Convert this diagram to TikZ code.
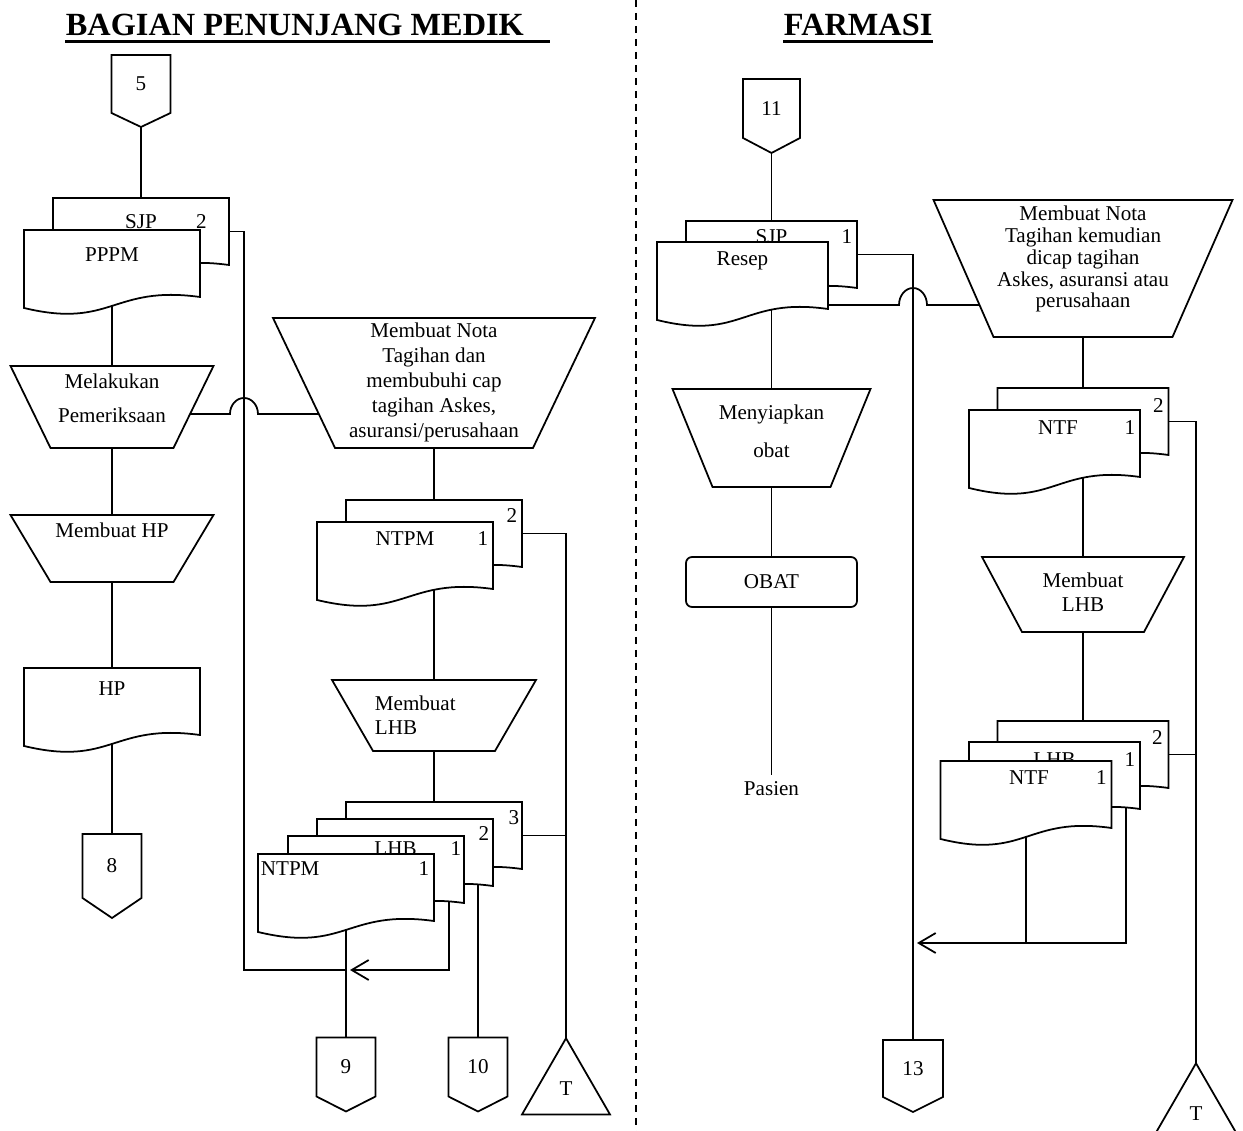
\documentclass[tikz,border=0pt]{standalone}
\usepackage{fontspec}
\setmainfont{Liberation Serif}
\usetikzlibrary{calc,shapes.geometric,arrows.meta,backgrounds}

\makeatletter
\newdimen\shpxa \newdimen\shpya \newdimen\shpxb \newdimen\shpyb
\newdimen\shpw \newdimen\shph \newdimen\shpc \newdimen\shpd \newdimen\shpe
\pgfkeys{/pgf/manual inset/.initial=0.8cm, /pgf/offpage tip/.initial=0.3cm}

% document sheet: flat top, wavy bottom
\pgfdeclareshape{document}{
  \inheritsavedanchors[from=rectangle]
  \inheritanchorborder[from=rectangle]
  \inheritanchor[from=rectangle]{center}
  \inheritanchor[from=rectangle]{north}
  \inheritanchor[from=rectangle]{south}
  \inheritanchor[from=rectangle]{east}
  \inheritanchor[from=rectangle]{west}
  \inheritanchor[from=rectangle]{north east}
  \inheritanchor[from=rectangle]{north west}
  \inheritanchor[from=rectangle]{south east}
  \inheritanchor[from=rectangle]{south west}
  \backgroundpath{
    \southwest \shpxa=\pgf@x \shpya=\pgf@y
    \northeast \shpxb=\pgf@x \shpyb=\pgf@y
    \shpw=\shpxb \advance\shpw by-\shpxa
    \shph=\shpyb \advance\shph by-\shpya
    \shpc=0.5\shpw \advance\shpc by\shpxa
    \shpd=0.18\shph \advance\shpd by\shpya
    \shpe=-0.48\shph \advance\shpe by\shpya
    \shph=-0.164\shph \advance\shph by\shpya
    \pgfpathmoveto{\pgfqpoint{\shpxa}{\shpyb}}
    \pgfpathlineto{\pgfqpoint{\shpxb}{\shpyb}}
    \pgfpathlineto{\pgfqpoint{\shpxb}{\shpya}}
    \pgfpathcurveto{\pgfqpoint{\shpc}{\shpd}}{\pgfqpoint{\shpc}{\shpe}}{\pgfqpoint{\shpxa}{\shph}}
    \pgfpathclose
  }
}

% manual operation: wide top, narrow bottom
\pgfdeclareshape{manualop}{
  \inheritsavedanchors[from=rectangle]
  \inheritanchorborder[from=rectangle]
  \inheritanchor[from=rectangle]{center}
  \inheritanchor[from=rectangle]{north}
  \inheritanchor[from=rectangle]{south}
  \inheritanchor[from=rectangle]{north east}
  \inheritanchor[from=rectangle]{north west}
  \saveddimen{\minset}{\pgfmathsetlength\pgf@x{\pgfkeysvalueof{/pgf/manual inset}}}
  \anchor{bottom east}{\southwest \shpya=\pgf@y \northeast \advance\pgf@x by-\minset \pgf@y=\shpya}
  \anchor{bottom west}{\southwest \advance\pgf@x by\minset}
  \backgroundpath{
    \southwest \shpxa=\pgf@x \shpya=\pgf@y
    \northeast \shpxb=\pgf@x \shpyb=\pgf@y
    \pgfpathmoveto{\pgfqpoint{\shpxa}{\shpyb}}
    \pgfpathlineto{\pgfqpoint{\shpxb}{\shpyb}}
    \advance\shpxb by-\minset
    \advance\shpxa by\minset
    \pgfpathlineto{\pgfqpoint{\shpxb}{\shpya}}
    \pgfpathlineto{\pgfqpoint{\shpxa}{\shpya}}
    \pgfpathclose
  }
}

% off-page connector
\pgfdeclareshape{offpage}{
  \inheritsavedanchors[from=rectangle]
  \inheritanchorborder[from=rectangle]
  \inheritanchor[from=rectangle]{center}
  \inheritanchor[from=rectangle]{north}
  \inheritanchor[from=rectangle]{south}
  \saveddimen{\optip}{\pgfmathsetlength\pgf@x{\pgfkeysvalueof{/pgf/offpage tip}}}
  \anchor{tip}{\southwest \shpxa=\pgf@x \shpya=\pgf@y \northeast \advance\pgf@x by\shpxa \pgf@x=0.5\pgf@x \pgf@y=\shpya \advance\pgf@y by-\optip}
  \backgroundpath{
    \southwest \shpxa=\pgf@x \shpya=\pgf@y
    \northeast \shpxb=\pgf@x \shpyb=\pgf@y
    \shpc=\shpxa \advance\shpc by\shpxb \shpc=0.5\shpc
    \shpd=\shpya \advance\shpd by-\optip
    \pgfpathmoveto{\pgfqpoint{\shpxa}{\shpyb}}
    \pgfpathlineto{\pgfqpoint{\shpxb}{\shpyb}}
    \pgfpathlineto{\pgfqpoint{\shpxb}{\shpya}}
    \pgfpathlineto{\pgfqpoint{\shpc}{\shpd}}
    \pgfpathlineto{\pgfqpoint{\shpxa}{\shpya}}
    \pgfpathclose
  }
}
\makeatother

\tikzset{
  shp/.style={draw, fill=white, inner sep=0pt, outer sep=0pt},
  doc/.style={shp, shape=document, minimum width=#1, minimum height=1.34cm},
  doc/.default=3.52cm,
  manop/.style={shp, shape=manualop},
  offpg/.style={shp, shape=offpage, minimum width=1.18cm, minimum height=1.18cm},
  term/.style={shp, regular polygon, regular polygon sides=3, minimum size=2.03cm},
  lab/.style={anchor=base, inner sep=0pt, yshift=#1},
  num/.style={anchor=base east, inner sep=0pt, yshift=#1, xshift=-0.08cm},
  txt/.style={anchor=center, align=center, inner sep=0pt, yshift=#1},
  ttl/.style={inner sep=0pt, font=\fontsize{18.4}{20}\selectfont\bfseries},
  uline/.style={line width=0.06cm},
  arr/.style={-{Straight Barb[length=0.34cm,width=0.4cm]}},
  divider/.style={dash pattern=on 0.14cm off 0.12cm}
}

\begin{document}
\begin{tikzpicture}[x=0.02cm, y=-0.02cm, line width=1pt, font=\fontsize{12}{13.66}\selectfont]
\useasboundingbox (0,0) rectangle (1243,1131);
\clip (0,0) rectangle (1243,1131);

\node[ttl, anchor=base west] (tbpm) at (65,36) {BAGIAN PENUNJANG MEDIK};
\node[ttl, anchor=base west] (tfar) at (783,36) {FARMASI};
\draw[uline] ([yshift=-0.12cm]tbpm.base west) -- ([xshift=0.5cm, yshift=-0.12cm]tbpm.base east);
\draw[uline] ([yshift=-0.12cm]tfar.base west) -- ([yshift=-0.12cm]tfar.base east);

% bagian penunjang medik
\node[offpg, minimum height=1.16cm, offpage tip=0.28cm] (c5) at (141,84) {5};
\node[doc, label={[lab=-0.62cm]north:SJP}, label={[num=-0.62cm, xshift=-0.35cm]north east:2}] (sjp2) at (141,231.5) {};
\node[doc, label={[lab=-0.64cm]north:PPPM}] (pppm) at (112,263.5) {};
\node[manop, minimum width=4.06cm, minimum height=1.64cm, manual inset=0.8cm,
  label={[txt=-0.64cm]north:Melakukan\\[0.2cm]Pemeriksaan}] (periksa) at (112,407) {};
\node[manop, minimum width=4.06cm, minimum height=1.34cm, manual inset=0.8cm,
  label={[txt=-0.3cm]north:Membuat HP}] (buathp) at (112,548.5) {};
\node[doc, label={[lab=-0.54cm]north:HP}] (hp) at (112,701.5) {};
\node[offpg, minimum height=1.28cm, offpage tip=0.4cm] (c8) at (112,866) {8};

\node[manop, minimum width=6.44cm, minimum height=2.6cm, manual inset=1.24cm,
  label={[txt=-1.29cm, font=\fontsize{12}{14.2}\selectfont]north:Membuat Nota\\Tagihan dan\\membubuhi cap\\tagihan Askes,\\asuransi/perusahaan}] (notapm) at (434,383) {};
\node[doc, label={[num=-0.44cm]north east:2}] (ntpmA) at (434,533.5) {};
\node[doc, label={[lab=-0.46cm]north:NTPM}, label={[num=-0.46cm]north east:1}] (ntpmB) at (405,555.5) {};
\node[manop, minimum width=4.08cm, minimum height=1.42cm, manual inset=0.82cm,
  label={[txt=-0.7cm, anchor=west, align=left, xshift=-1.2cm]north:Membuat\\LHB}] (lhbpm) at (434,715.5) {};
\node[doc, label={[num=-0.44cm, xshift=0.04cm]north east:3}] (rek3) at (434,835.5) {};
\node[doc, label={[num=-0.42cm, xshift=0.02cm]north east:2}] (rek2) at (405,852.5) {};
\node[doc, label={[lab=-0.38cm, xshift=0.39cm]north:LHB}, label={[num=-0.38cm, xshift=0.04cm]north east:1}] (lhb1) at (376,869.5) {};
\node[doc, label={[lab=-0.42cm, anchor=base west, xshift=0.04cm]north west:NTPM}, label={[num=-0.42cm]north east:1}] (ntpm1) at (346,887.5) {};
\node[offpg] (c9) at (346,1067) {9};
\node[offpg] (c10) at (478,1067) {10};
\node[term] (tL) at (566,1089) {T};

% farmasi
\node[offpg, minimum width=1.14cm] (c11) at (771.5,108.5) {11};
\node[doc=3.42cm, label={[lab=-0.46cm]north:SJP}, label={[num=-0.46cm]north east:1}] (sjpf) at (771.5,254.5) {};
\node[doc=3.42cm, label={[lab=-0.48cm]north:Resep}] (resep) at (742.5,275.5) {};
\node[manop, minimum width=3.96cm, minimum height=1.96cm, manual inset=0.8cm,
  label={[txt=-0.84cm]north:Menyiapkan\\[0.28cm]obat}] (siapobat) at (771.5,438) {};
\node[shp, rounded corners=0.12cm, minimum width=3.42cm, minimum height=1cm] (obat) at (771.5,582) {OBAT};
\node[anchor=north] (pasien) at (771.5,775) {Pasien};
\node[offpg, minimum width=1.2cm, minimum height=1.14cm] (c13) at (913,1068.5) {13};

\node[manop, minimum width=5.98cm, minimum height=2.74cm, manual inset=1.2cm,
  label={[txt=-1.18cm, font=\fontsize{12}{12.5}\selectfont]north:Membuat Nota\\Tagihan kemudian\\dicap tagihan\\Askes, asuransi atau\\perusahaan}] (notaf) at (1083,268.5) {};
\node[doc=3.42cm, label={[num=-0.48cm]north east:2}] (ntfA) at (1083,421.5) {};
\node[doc=3.42cm, label={[lab=-0.48cm, xshift=0.07cm]north:NTF}, label={[num=-0.48cm]north east:1}] (ntfB) at (1054.5,443.5) {};
\node[manop, minimum width=4.04cm, minimum height=1.5cm, manual inset=0.8cm,
  label={[txt=-0.7cm]north:Membuat\\LHB}] (lhbf) at (1083,594.5) {};
\node[doc=3.42cm, label={[num=-0.46cm, xshift=-0.02cm]north east:2}] (rekf2) at (1083,754.5) {};
\node[doc=3.42cm, label={[lab=-0.48cm]north:LHB}, label={[num=-0.48cm]north east:1}] (lhbf1) at (1054.5,775.5) {};
\node[doc=3.42cm, label={[lab=-0.46cm, xshift=0.06cm]north:NTF}, label={[num=-0.46cm]north east:1}] (ntff1) at (1026,794.5) {};
\node[term] (tR) at (1196,1114) {T};

\begin{pgfonlayer}{background}
\begin{scope}[line width=1pt]
\draw[divider] (636,0) -- (636,1131);

\coordinate (jL) at (346,970);
\coordinate (sjpturn) at ([xshift=0.3cm]sjp2.east);
\coordinate (m1) at ($(periksa.north east)!0.585!(periksa.bottom east)$);
\coordinate (m2) at ($(notapm.north west)!0.738!(notapm.bottom west)$);
\coordinate (hop1) at (sjpturn |- m1);
\coordinate (lhbx) at ([xshift=-0.3cm]lhb1.east);
\draw (c5.tip) -- (sjp2.north);
\draw (pppm.center) -- (periksa.north);
\draw (periksa.south) -- (buathp.north);
\draw (buathp.south) -- (hp.north);
\draw (hp.center) -- (c8.north);
\draw (m1) -- ([xshift=-0.28cm]hop1) arc[start angle=180, end angle=0, x radius=0.28cm, y radius=0.32cm] -- (m2);
\draw (sjp2.east) -- (sjpturn) -- (sjpturn |- jL) -- (jL);
\draw (notapm.south) -- (ntpmA.north);
\draw (ntpmA.center) -- (lhbpm.north);
\draw (lhbpm.south) -- (rek3.north);
\draw (ntpmA.east) -- (tL.north |- ntpmA.east) -- (tL.north);
\draw (rek3.east) -- (tL.north |- rek3.east);
\draw (ntpm1.center) -- (c9.north);
\draw (c10.north |- rek2.center) -- (c10.north);
\draw[arr] (lhbx) -- (lhbx |- jL) -- ([xshift=0.08cm]jL);

\coordinate (jR) at (913,943);
\coordinate (r1) at ([yshift=0.08cm]resep.south east);
\coordinate (r2) at ($(notaf.north west)!0.766!(notaf.bottom west)$);
\coordinate (hop2) at (c13.north |- r1);
\coordinate (lhbfx) at ([xshift=-0.28cm]lhbf1.east);
\draw (c11.tip) -- (sjpf.north);
\draw (sjpf.center) -- (siapobat.north);
\draw (siapobat.south) -- (obat.north);
\draw (obat.south) -- (pasien.north);
\draw (sjpf.east) -- (c13.north |- sjpf.east) -- (c13.north);
\draw (r1) -- ([xshift=-0.28cm]hop2) arc[start angle=180, end angle=0, x radius=0.28cm, y radius=0.34cm] -- (r2);
\draw (notaf.south) -- (ntfA.north);
\draw (ntfA.center) -- (lhbf.north);
\draw (lhbf.south) -- (rekf2.north);
\draw (ntfA.east) -- (tR.north |- ntfA.east) -- (tR.north);
\draw (rekf2.east) -- (tR.north |- rekf2.east);
\draw (ntff1.center) -- (ntff1.center |- jR);
\draw[arr] (lhbfx) -- (lhbfx |- jR) -- ([xshift=0.08cm]jR);
\end{scope}
\end{pgfonlayer}
\end{tikzpicture}
\end{document}
